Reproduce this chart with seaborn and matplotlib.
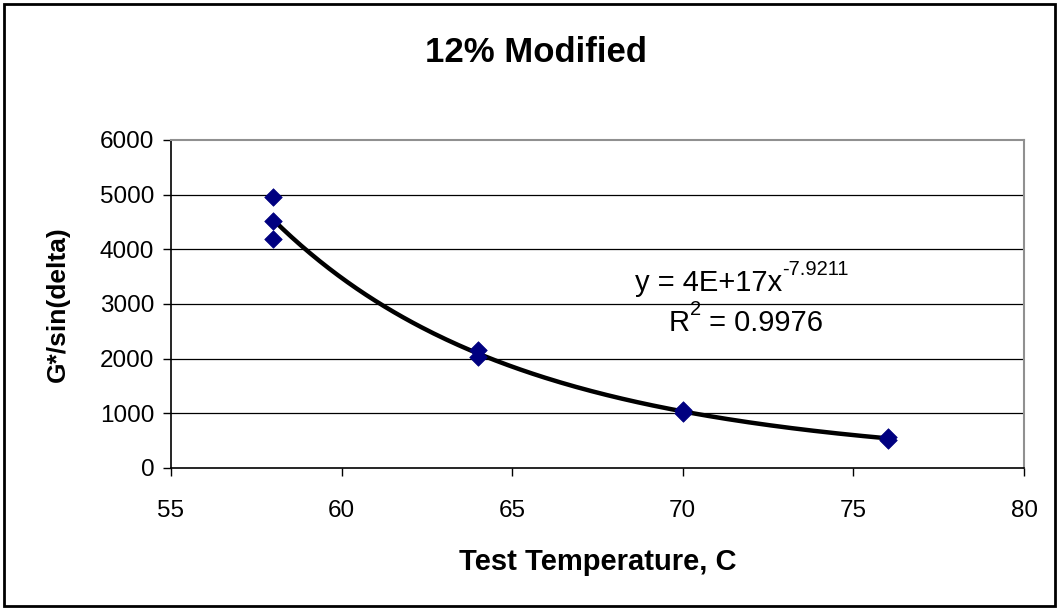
import numpy as np
import pandas as pd
import matplotlib
matplotlib.use("Agg")
import matplotlib.pyplot as plt
import seaborn as sns
from matplotlib.patches import Rectangle

# Data
temperature = [58, 58, 58, 64, 64, 70, 70, 76, 76]
g_sin_delta = [4960, 4510, 4190, 2160, 2035, 1060, 1000, 570, 520]

title_text = "12% Modified"
x_label = "Test Temperature, C"
y_label = "G*/sin(delta)"
eq_main = "y = 4E+17x"
eq_exp = "-7.9211"
r2_main = "R"
r2_sup = "2"
r2_rest = " = 0.9976"
x_ticks = [55, 60, 65, 70, 75, 80]
y_ticks = [0, 1000, 2000, 3000, 4000, 5000, 6000]

sns.set_theme(style="white")
plt.rcParams['font.family'] = ['Liberation Sans', 'DejaVu Sans']
for k in ["text.color", "axes.labelcolor", "xtick.color", "ytick.color"]:
    plt.rcParams[k] = "black"

df = pd.DataFrame({"T": temperature, "G": g_sin_delta})

# Power trendline fitted to the data (log-log least squares)
b, loga = np.polyfit(np.log(df["T"]), np.log(df["G"]), 1)
xfit = np.linspace(min(temperature), max(temperature), 200)
fit = pd.DataFrame({"T": xfit, "G": np.exp(loga) * xfit ** b})

fig = plt.figure(figsize=(10.59, 6.10), dpi=100)
ax = fig.add_axes([171/1059, 1 - 468/610, (1024-171)/1059, (468-140)/610])

for yv in y_ticks[1:-1]:
    ax.axhline(yv, color="black", lw=0.9, zorder=0)

sns.lineplot(data=fit, x="T", y="G", ax=ax, color="black", lw=3.2, zorder=2)
sns.scatterplot(data=df, x="T", y="G", ax=ax, marker="D", s=80,
                color="#000080", edgecolor="#000080", linewidth=0.5, zorder=3)

ax.set_xlim(55, 80)
ax.set_ylim(0, 6000)
ax.set_xticks(x_ticks)
ax.set_yticks(y_ticks)
ax.tick_params(axis="both", direction="out", length=6, width=1, color="black",
               labelsize=17.5, bottom=True, left=True, pad=6)
ax.tick_params(axis="x", pad=17)
for side in ["left", "bottom"]:
    ax.spines[side].set_color("black")
    ax.spines[side].set_linewidth(1.2)
for side in ["top", "right"]:
    ax.spines[side].set_color("#909090")
    ax.spines[side].set_linewidth(1.5)

ax.set_xlabel(x_label, fontsize=21, fontweight="bold", labelpad=19)
ax.set_ylabel(y_label, fontsize=19, fontweight="bold", labelpad=22)

# Equation with superscript exponent
t1 = fig.text(635/1059, 1 - 291/610, eq_main, fontsize=21,
              ha="left", va="baseline")
ax.annotate(eq_exp, xy=(1.0, 0.80), xycoords=t1, fontsize=14.5,
            ha="left", va="baseline")

t2 = fig.text(669/1059, 1 - 331/610, r2_main, fontsize=21,
              ha="left", va="baseline")
a2 = ax.annotate(r2_sup, xy=(1.0, 0.80), xycoords=t2, fontsize=14.5,
                 ha="left", va="baseline")
ax.annotate(r2_rest, xy=(1.0, 0.0), xycoords=a2, fontsize=21,
            ha="left", va="baseline", xytext=(0, -9.2),
            textcoords="offset points")

fig.text(536/1059, 1 - 52/610, title_text, fontsize=25, fontweight="bold",
         ha="center", va="center")

fig.patches.append(Rectangle((4/1059, 4/610), 1 - 8/1059, 1 - 8/610,
                             transform=fig.transFigure, fill=False,
                             edgecolor="black", lw=2))

fig.savefig("out.png", dpi=100)
